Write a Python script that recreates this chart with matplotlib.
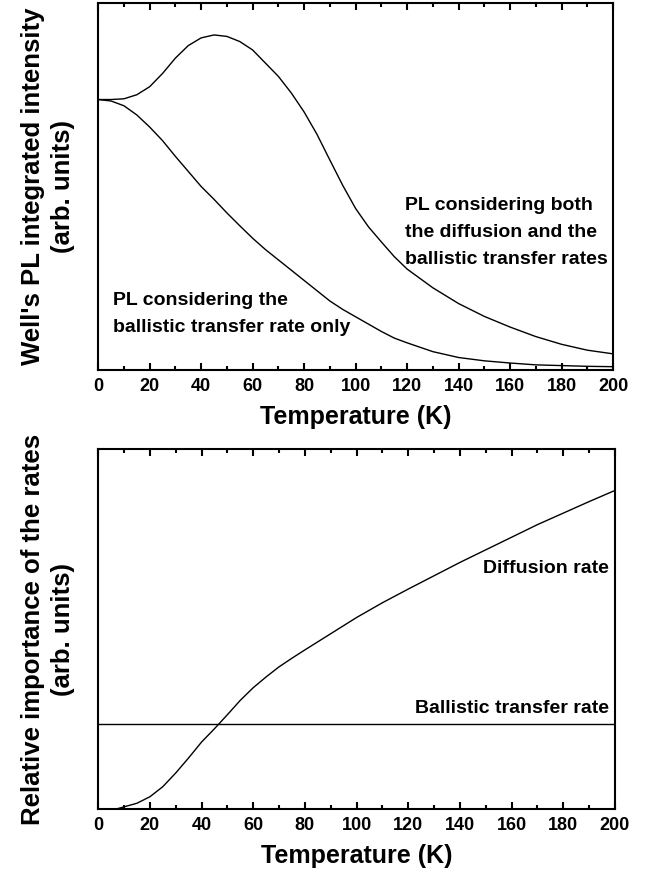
import numpy as np
import matplotlib
matplotlib.use('Agg')
import matplotlib.pyplot as plt
from matplotlib.ticker import MultipleLocator, NullLocator

plt.rcParams['font.family'] = ['Liberation Sans', 'DejaVu Sans']
plt.rcParams['font.weight'] = 'bold'

# ---- top panel: well PL intensity (arb. units) ----
temp_both = [0, 5, 10, 15, 20, 25, 30, 35, 40, 45, 50, 55, 60, 65, 70, 75, 80,
             85, 90, 95, 100, 105, 110, 115, 120, 130, 140, 150, 160, 170,
             180, 190, 200]
pl_both = [0.737, 0.737, 0.739, 0.750, 0.772, 0.808, 0.850, 0.884, 0.905,
           0.913, 0.909, 0.895, 0.872, 0.836, 0.800, 0.755, 0.703, 0.642,
           0.572, 0.503, 0.440, 0.390, 0.349, 0.309, 0.275, 0.224, 0.181,
           0.146, 0.117, 0.091, 0.070, 0.054, 0.044]

temp_ball = [0, 5, 10, 15, 20, 25, 30, 35, 40, 45, 50, 55, 60, 65, 70, 75, 80,
             85, 90, 95, 100, 105, 110, 115, 120, 130, 140, 150, 160, 170,
             180, 190, 200]
pl_ball = [0.737, 0.733, 0.720, 0.695, 0.662, 0.625, 0.582, 0.541, 0.500,
           0.465, 0.428, 0.393, 0.359, 0.328, 0.300, 0.272, 0.244, 0.216,
           0.188, 0.165, 0.145, 0.125, 0.105, 0.087, 0.074, 0.050, 0.034,
           0.025, 0.019, 0.014, 0.012, 0.010, 0.009]

# ---- bottom panel: relative importance of the rates ----
temp_diff = [7, 10, 15, 20, 25, 30, 35, 40, 45, 50, 55, 60, 65, 70, 75, 80,
             90, 100, 110, 120, 130, 140, 150, 160, 170, 180, 190, 200]
rate_diff = [0.0, 0.006, 0.016, 0.034, 0.062, 0.100, 0.142, 0.186, 0.223,
             0.262, 0.302, 0.337, 0.367, 0.395, 0.419, 0.442, 0.487, 0.532,
             0.573, 0.611, 0.648, 0.685, 0.720, 0.755, 0.790, 0.822, 0.854,
             0.885]
rate_ballistic = 0.236

xticks = [0, 20, 40, 60, 80, 100, 120, 140, 160, 180, 200]


def style_axes(ax):
    ax.set_xlim(0, 200)
    ax.set_ylim(0, 1)
    ax.set_xticks(xticks)
    ax.xaxis.set_minor_locator(MultipleLocator(10))
    ax.yaxis.set_major_locator(NullLocator())
    ax.tick_params(axis='x', which='both', direction='in', top=True,
                   width=1.5, labelsize=13, pad=6)
    ax.tick_params(axis='x', which='major', length=5)
    ax.tick_params(axis='x', which='minor', length=3)
    for s in ax.spines.values():
        s.set_linewidth(1.5)
    ax.set_xlabel('Temperature (K)', fontsize=18, fontweight='bold', labelpad=7)


fig = plt.figure(figsize=(6.46, 8.86), dpi=100)

# top
ax1 = fig.add_axes([0.152, 0.5824, 0.797, 0.4142])
ax1.plot(temp_both, pl_both, color='black', lw=1.0)
ax1.plot(temp_ball, pl_ball, color='black', lw=1.0)
style_axes(ax1)
ax1.set_ylabel("Well's PL integrated intensity\n(arb. units)", fontsize=18.5,
               fontweight='bold', linespacing=1.3, labelpad=17)

for txt, yy in zip(['PL considering both', 'the diffusion and the',
                    'ballistic transfer rates'], [0.436, 0.362, 0.289]):
    ax1.text(119.2, yy, txt, fontsize=14, fontweight='bold', va='baseline')
for txt, yy in zip(['PL considering the', 'ballistic transfer rate only'],
                   [0.177, 0.104]):
    ax1.text(5.6, yy, txt, fontsize=14, fontweight='bold', va='baseline')

# bottom
ax2 = fig.add_axes([0.152, 0.0869, 0.800, 0.4063])
ax2.plot(temp_diff, rate_diff, color='black', lw=1.0)
ax2.axhline(rate_ballistic, color='black', lw=1.0)
style_axes(ax2)
ax2.set_ylabel("Relative importance of the rates\n(arb. units)", fontsize=18.5,
               fontweight='bold', linespacing=1.3, labelpad=17)
ax2.text(197.7, 0.656, 'Diffusion rate', fontsize=14, fontweight='bold',
         ha='right', va='baseline')
ax2.text(197.7, 0.267, 'Ballistic transfer rate', fontsize=14,
         fontweight='bold', ha='right', va='baseline')

fig.savefig('out.png', dpi=100)
